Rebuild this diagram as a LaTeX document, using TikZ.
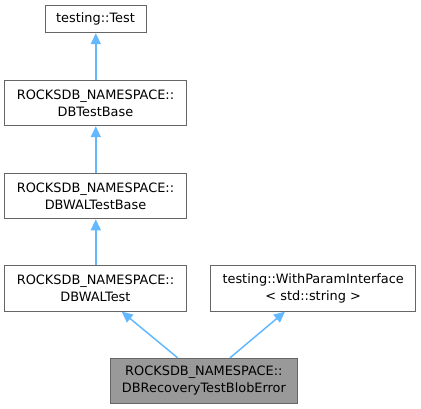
\documentclass[tikz,border=0pt]{standalone}
\usepackage{fontspec}
\setmainfont{DejaVu Sans}
\usetikzlibrary{arrows.meta}
\definecolor{edgeblue}{HTML}{63B8FF}
\definecolor{boxgray}{HTML}{666666}
\definecolor{hlfill}{HTML}{999999}
\begin{document}
\begin{tikzpicture}[x=1pt,y=-1pt,
  cls/.style={draw=boxgray,line width=0.9pt,fill=white,inner sep=0pt,align=center,
    font=\fontsize{12.9}{17}\selectfont,text=black},
  hl/.style={cls,fill=hlfill},
  inh/.style={draw=edgeblue,line width=1.5pt,-{Triangle[length=11pt,width=10pt]}}]
\useasboundingbox (0,0) rectangle (421,409);
\node[cls,minimum width=101pt,minimum height=27.7pt] (test) at (95.5,18.9) {testing::Test};
\node[cls,minimum width=182pt,minimum height=45.7pt] (base) at (95.5,102.9) {ROCKSDB\_NAMESPACE::\\DBTestBase};
\node[cls,minimum width=182pt,minimum height=45.7pt] (walbase) at (95.5,196) {ROCKSDB\_NAMESPACE::\\DBWALTestBase};
\node[cls,minimum width=182pt,minimum height=45.7pt] (wal) at (95.5,288.3) {ROCKSDB\_NAMESPACE::\\DBWALTest};
\node[cls,minimum width=205pt,minimum height=45.7pt] (param) at (313.2,288.3) {testing::WithParamInterface\\\textless{} std::string \textgreater};
\node[hl,minimum width=187.7pt,minimum height=45.4pt] (rec) at (203.9,381) {ROCKSDB\_NAMESPACE::\\DBRecoveryTestBlobError};
\draw[inh] ([xshift=0.3pt]base.north) -- ([xshift=0.3pt]test.south);
\draw[inh] ([xshift=0.3pt]walbase.north) -- ([xshift=0.3pt]base.south);
\draw[inh] ([xshift=0.3pt]wal.north) -- ([xshift=0.3pt]walbase.south);
\draw[inh] ([xshift=-26.2pt]rec.north) -- ([xshift=26.2pt]wal.south);
\draw[inh] ([xshift=26.1pt]rec.north) -- ([xshift=-28.2pt]param.south);
\end{tikzpicture}
\end{document}
